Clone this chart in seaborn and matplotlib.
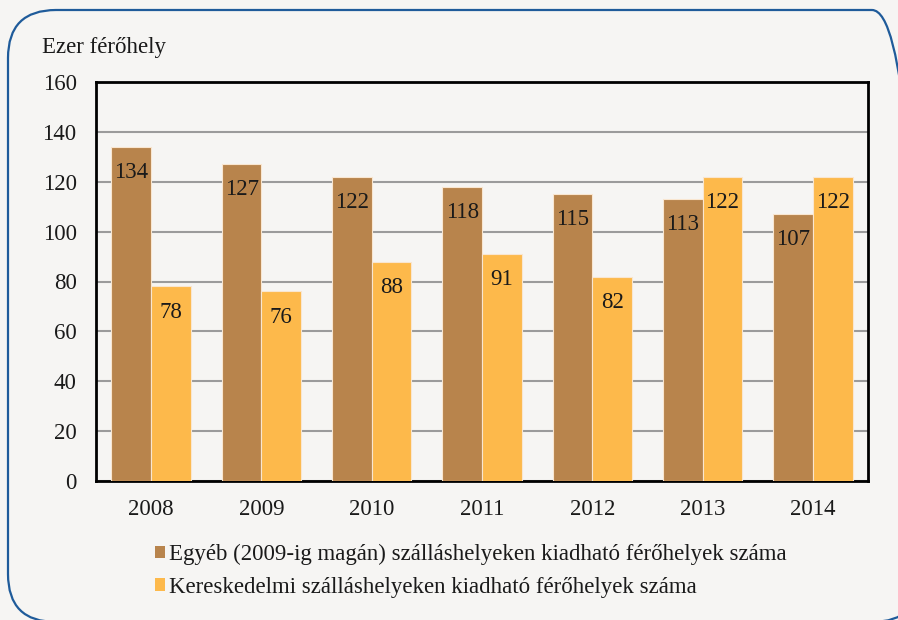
import matplotlib
matplotlib.use("Agg")
import matplotlib.pyplot as plt
from matplotlib.patches import FancyBboxPatch, Patch
import seaborn as sns
import pandas as pd

years = ["2008", "2009", "2010", "2011", "2012", "2013", "2014"]
egyeb = [134, 127, 122, 118, 115, 113, 107]
kereskedelmi = [78, 76, 88, 91, 82, 122, 122]
series_names = [
    "Egyéb (2009-ig magán) szálláshelyeken kiadható férőhelyek száma",
    "Kereskedelmi szálláshelyeken kiadható férőhelyek száma",
]
y_ticks = [0, 20, 40, 60, 80, 100, 120, 140, 160]
y_title = "Ezer férőhely"

colors = ["#b8844c", "#fdb94b"]
bg = "#f6f5f3"
fs = 16.5

df = pd.DataFrame({
    "Év": years * 2,
    "Érték": egyeb + kereskedelmi,
    "Sorozat": [series_names[0]] * len(years) + [series_names[1]] * len(years),
})

sns.set_theme(style="white")
plt.rcParams["font.family"] = ["Liberation Serif", "DejaVu Serif"]
plt.rcParams["text.color"] = "#1a1a1a"

fig = plt.figure(figsize=(8.98, 6.2), dpi=100, facecolor=bg)
ax = fig.add_axes([96 / 898, 1 - 481 / 620, (868 - 96) / 898, (481 - 82) / 620])
ax.set_facecolor(bg)

sns.barplot(data=df, x="Év", y="Érték", hue="Sorozat", hue_order=series_names,
            palette=colors, saturation=1, width=0.72, edgecolor="#f9e6d0",
            linewidth=0.8, ax=ax, legend=False, zorder=3)

ax.set_ylim(0, 160)
ax.set_yticks(y_ticks)
ax.set_yticklabels([str(v) for v in y_ticks], fontsize=fs)
ax.tick_params(axis="y", direction="out", length=6, width=1.5, color="black", pad=8,
               labelcolor="#1a1a1a")
ax.tick_params(axis="x", length=0, pad=13, labelsize=fs, labelcolor="#1a1a1a")
ax.set_xlabel("")
ax.set_ylabel("")
ax.yaxis.grid(True, color="#9b9b9b", linewidth=1.5, zorder=0)
ax.set_axisbelow(True)
for s in ax.spines.values():
    s.set_visible(True)
    s.set_color("black")
    s.set_linewidth(2)

for cont in ax.containers:
    ax.bar_label(cont, labels=[f"{v:.0f}" for v in cont.datavalues],
                 padding=-26, fontsize=fs, color="#1a1a1a", zorder=4)

fig.text(42 / 898, 1 - 48 / 620, y_title, fontsize=fs, va="center", ha="left")

handles = [Patch(facecolor=c, edgecolor="none") for c in colors]
fig.legend(handles, series_names, loc="upper left",
           bbox_to_anchor=(146 / 898, 1 - 535 / 620), frameon=False,
           fontsize=fs, handlelength=0.45, handleheight=0.45, handletextpad=0.15,
           labelspacing=0.5, borderaxespad=0)

border = FancyBboxPatch((8, -2), 912, 612, boxstyle="round,pad=0,rounding_size=48",
                        transform=None, facecolor="none", edgecolor="#1f5b9a",
                        linewidth=1.6, zorder=10)
fig.patches.append(border)

fig.savefig("out.png", dpi=100, facecolor=bg)
